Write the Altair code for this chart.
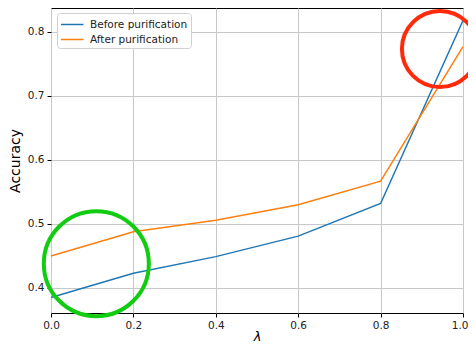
import altair as alt
import pandas as pd

lam = [0.0, 0.2, 0.4, 0.6, 0.8, 1.0]
before = [0.385, 0.423, 0.449, 0.481, 0.532, 0.818]
after = [0.450, 0.488, 0.506, 0.530, 0.567, 0.777]
series_names = ["Before purification", "After purification"]
series_colors = ["#1f77b4", "#ff7f0e"]

circle_x = [0.110, 0.944]
circle_y = [0.438, 0.7734]
circle_size = [11025, 5776]
circle_color = ["#11cc11", "#ff2a0a"]

rows = []
for name, vals in zip(series_names, [before, after]):
    for xv, yv in zip(lam, vals):
        rows.append({"lam": xv, "acc": yv, "series": name})
df = pd.DataFrame(rows)
circles = pd.DataFrame({"x": circle_x, "y": circle_y, "s": circle_size, "c": circle_color})

xscale = alt.Scale(domain=[0, 1], nice=False, zero=False)
yscale = alt.Scale(domain=[0.3609, 0.8375], nice=False, zero=False)

xaxis = alt.Axis(values=[0, 0.2, 0.4, 0.6, 0.8, 1.0], format=".1f", title="λ",
                 titleFontStyle="italic", titleFontSize=13, titleFontWeight="normal",
                 titlePadding=0, labelPadding=3, labelFlush=False,
                 labelAlign={"condition": {"test": "datum.value == 1", "value": "right"}, "value": "center"},
                 labelOffset={"condition": {"test": "datum.value == 1", "value": 5}, "value": 0})
yaxis = alt.Axis(values=[0.4, 0.5, 0.6, 0.7, 0.8], format=".1f", title="Accuracy",
                 titleFontSize=14, titleFontWeight="normal", titleX=-36, titleBaseline="middle",
                 labelPadding=3)

lines = alt.Chart(df).mark_line(strokeWidth=1.5).encode(
    x=alt.X("lam:Q", scale=xscale, axis=xaxis),
    y=alt.Y("acc:Q", scale=yscale, axis=yaxis),
    color=alt.Color("series:N", scale=alt.Scale(domain=series_names, range=series_colors),
                    sort=series_names,
                    legend=alt.Legend(title=None, orient="none", legendX=6, legendY=5,
                                      symbolType="M-1,0L2,0", symbolSize=225, symbolStrokeWidth=1.5,
                                      labelFontSize=10.5, padding=3, rowPadding=1, labelOffset=13,
                                      fillColor="white", strokeColor="#d0d0d0",
                                      cornerRadius=3, labelFont="DejaVu Sans")),
)

circ = alt.Chart(circles).mark_point(shape="circle", filled=False, strokeWidth=4, opacity=1, clip=False).encode(
    x=alt.X("x:Q", scale=xscale),
    y=alt.Y("y:Q", scale=yscale),
    size=alt.Size("s:Q", scale=None),
    stroke=alt.Stroke("c:N", scale=None),
)

chart = alt.layer(lines, circ).properties(
    width=412, height=305,
    autosize=alt.AutoSizeParams(type="none"),
    padding={"left": 43, "top": 0, "right": 5, "bottom": 32},
).configure_view(stroke="black", strokeWidth=1).configure_axis(
    grid=True, gridColor="#c8c8c8", gridWidth=1, domain=False,
    tickColor="black", tickSize=4, labelFontSize=10.5, labelColor="#222",
    labelFont="DejaVu Sans", titleFont="DejaVu Sans", titleColor="black",
).configure_legend(labelColor="#222")

chart.save("out.html", embed_options={"renderer": "svg", "actions": False})
